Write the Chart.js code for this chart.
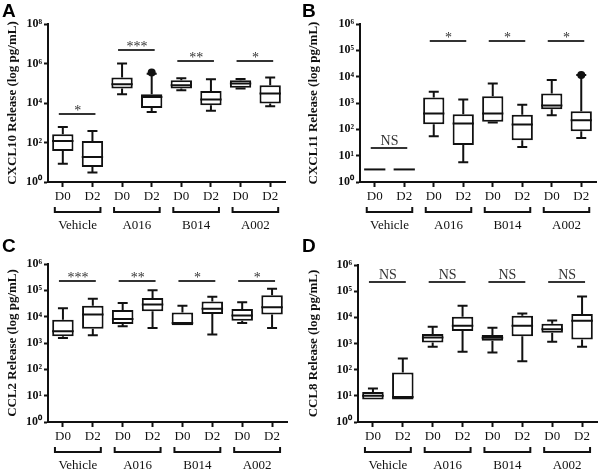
<!DOCTYPE html>
<html>
<head>
<meta charset="utf-8">
<script src="https://cdn.jsdelivr.net/npm/chart.js@4.4.0/dist/chart.umd.min.js"></script>
<style>
body { margin: 0; background: #fff; }
#wrap { position: relative; width: 600px; height: 471px; }
.cell { position: absolute; }
</style>
</head>
<body>
<div id="wrap">
  <div class="cell" style="left:0;top:0"><canvas id="cA" width="300" height="235"></canvas></div>
  <div class="cell" style="left:300px;top:0"><canvas id="cB" width="300" height="235"></canvas></div>
  <div class="cell" style="left:0;top:235px"><canvas id="cC" width="300" height="236"></canvas></div>
  <div class="cell" style="left:300px;top:235px"><canvas id="cD" width="300" height="236"></canvas></div>
</div>
<script>
var groups = ['Vehicle', 'A016', 'B014', 'A002'];
var dayLabels = ['D0', 'D2', 'D0', 'D2', 'D0', 'D2', 'D0', 'D2'];

// panel A - CXCL10
var cxcl10Min = [8.5, 3, 2.8e4, 3.5e3, 4.4e4, 4e3, 5.4e4, 6.8e3];
var cxcl10Q1  = [37, 5.8, 5.4e4, 5.6e3, 5.4e4, 7.7e3, 6.0e4, 9.3e3];
var cxcl10Med = [120, 18.5, 8.9e4, 2.0e4, 7.9e4, 1.5e4, 9.6e4, 3e4];
var cxcl10Q3  = [262, 120, 1.94e5, 2.8e4, 1.4e5, 4.1e4, 1.4e5, 7.9e4];
var cxcl10Max = [615, 383, 1e6, 3e5, 1.8e5, 1.6e5, 1.66e5, 1.94e5];
var cxcl10Out = [null, null, null, 3.5e5, null, null, null, null];
var cxcl10Sig = ['*', '***', '**', '*'];
var cxcl10SigY = [2.9e3, 4.7e6, 1.3e6, 1.3e6];

// panel B - CXCL11
var cxcl11Min = [3, 3, 55, 5.6, 181, 21.5, 345, 47];
var cxcl11Q1  = [3, 3, 157, 25.6, 192, 38.5, 585, 85];
var cxcl11Med = [3, 3, 400, 166, 400, 152, 800, 222];
var cxcl11Q3  = [3, 3, 1.6e3, 377, 1.8e3, 355, 2.3e3, 490];
var cxcl11Max = [3, 3, 2.7e3, 1.36e3, 5.5e3, 850, 7.4e3, 1.15e4];
var cxcl11Out = [null, null, null, null, null, null, null, 1.15e4];
var cxcl11Sig = ['NS', '*', '*', '*'];
var cxcl11SigY = [20, 2.2e5, 2.2e5, 2.2e5];

// panel C - CCL2
var ccl2Min = [1.55e3, 1.95e3, 4.3e3, 3.7e3, 4.7e3, 2.1e3, 5.7e3, 3.7e3];
var ccl2Q1  = [1.8e3, 3.5e3, 5.3e3, 1.6e4, 4.7e3, 1.26e4, 7.0e3, 1.2e4];
var ccl2Med = [2.8e3, 1.2e4, 8.1e3, 2.9e4, 5.7e3, 2e4, 1.1e4, 2.3e4];
var ccl2Q3  = [7.7e3, 2.6e4, 1.8e4, 5.1e4, 1.45e4, 3.8e4, 1.95e4, 6.5e4];
var ccl2Max = [2.1e4, 4.8e4, 3.3e4, 1e5, 2.6e4, 5.7e4, 3.5e4, 1.15e5];
var ccl2Sig = ['***', '**', '*', '*'];
var ccl2SigY = [2.2e5, 2.2e5, 2.2e5, 2.2e5];

// panel D - CCL8
var ccl8Min = [7.2, 7.2, 750, 480, 455, 210, 1.17e3, 750];
var ccl8Q1  = [7.2, 7.2, 1.1e3, 3e3, 1.26e3, 1.9e3, 2.6e3, 1.42e3];
var ccl8Med = [10, 9.1, 1.7e3, 4.8e3, 1.66e3, 4.8e3, 3.5e3, 7.4e3];
var ccl8Q3  = [14, 78, 2.3e3, 1.05e4, 2.1e3, 1.15e4, 5.7e3, 1.35e4];
var ccl8Max = [19, 267, 4.4e3, 2.8e4, 4e3, 1.4e4, 7.6e3, 6.2e4];
var ccl8Sig = ['NS', 'NS', 'NS', 'NS'];
var ccl8SigY = [2.3e5, 2.3e5, 2.3e5, 2.3e5];

var INK = '#111';
var SERIF = '"Liberation Serif", "Times New Roman", serif';
var SUP = {'0': '\u2070', '1': '\u00b9', '2': '\u00b2', '3': '\u00b3', '4': '\u2074',
           '5': '\u2075', '6': '\u2076', '7': '\u2077', '8': '\u2078', '9': '\u2079'};

// whiskers, medians, brackets, significance bars, panel letter
var boxExtras = {
  id: 'boxExtras',
  afterDatasetsDraw: function(chart, args, o) {
    var ctx = chart.ctx, xs = chart.scales.x, ys = chart.scales.y;
    var area = chart.chartArea;
    var bars = chart.getDatasetMeta(0).data;
    ctx.save();
    ctx.strokeStyle = INK;
    ctx.lineWidth = 2;
    ctx.lineCap = 'butt';
    for (var i = 0; i < o.med.length; i++) {
      var x = xs.getPixelForValue(i);
      var hw = bars[i].width / 2;
      var yMin = ys.getPixelForValue(o.min[i]), yMax = ys.getPixelForValue(o.max[i]);
      var yQ1 = ys.getPixelForValue(o.q1[i]), yQ3 = ys.getPixelForValue(o.q3[i]);
      var yMed = ys.getPixelForValue(o.med[i]);
      ctx.beginPath();
      if (yMax < yQ3 - 0.5) {
        ctx.moveTo(x, yQ3); ctx.lineTo(x, yMax);
        ctx.moveTo(x - 5, yMax); ctx.lineTo(x + 5, yMax);
      }
      if (yMin > yQ1 + 0.5) {
        ctx.moveTo(x, yQ1); ctx.lineTo(x, yMin);
        ctx.moveTo(x - 5, yMin); ctx.lineTo(x + 5, yMin);
      }
      ctx.moveTo(x - hw, yMed); ctx.lineTo(x + hw, yMed);
      ctx.stroke();
    }
    // significance bars
    ctx.strokeStyle = '#333';
    ctx.fillStyle = '#333';
    ctx.textAlign = 'center';
    ctx.textBaseline = 'alphabetic';
    for (var g = 0; g < groups.length; g++) {
      var x0 = xs.getPixelForValue(2 * g), x1 = xs.getPixelForValue(2 * g + 1);
      var y = Math.round(ys.getPixelForValue(o.sigY[g]));
      ctx.beginPath();
      ctx.moveTo(x0 - 4, y); ctx.lineTo(x1 + 3, y);
      ctx.stroke();
      var t = o.sig[g];
      ctx.font = '14px ' + SERIF;
      ctx.fillText(t, (x0 + x1) / 2, t === 'NS' ? y - 3 : y + 1);
    }
    // group brackets under the x axis
    ctx.strokeStyle = INK;
    ctx.fillStyle = INK;
    ctx.font = '13px ' + SERIF;
    for (g = 0; g < groups.length; g++) {
      x0 = xs.getPixelForValue(2 * g) - 8;
      x1 = xs.getPixelForValue(2 * g + 1) + 8;
      var by = area.bottom + 30;
      ctx.beginPath();
      ctx.moveTo(x0, by - 5); ctx.lineTo(x0, by); ctx.lineTo(x1, by); ctx.lineTo(x1, by - 5);
      ctx.stroke();
      ctx.textBaseline = 'middle';
      ctx.fillText(groups[g], (x0 + x1) / 2, area.bottom + 44);
    }
    // panel letter
    ctx.font = 'bold 19px "Liberation Sans", Arial, sans-serif';
    ctx.textAlign = 'left';
    ctx.textBaseline = 'alphabetic';
    ctx.fillStyle = '#000';
    ctx.fillText(o.letter, 2, 17);
    ctx.restore();
  }
};

function makePanel(id, p) {
  var boxes = p.q1.map(function(v, i) { return [v, p.q3[i]]; });
  var datasets = [{
    type: 'bar',
    data: boxes,
    backgroundColor: '#fff',
    borderColor: INK,
    borderWidth: 2,
    borderSkipped: false,
    categoryPercentage: 1,
    barPercentage: 0.72
  }];
  if (p.out) {
    datasets.push({
      type: 'line',
      data: p.out,
      showLine: false,
      pointRadius: 4,
      pointBackgroundColor: INK,
      pointBorderColor: INK,
      pointBorderWidth: 0
    });
  }
  var ticks = [];
  for (var e = 0; e <= p.maxExp; e += p.step) ticks.push(e);
  return new Chart(document.getElementById(id), {
    type: 'bar',
    data: { labels: dayLabels, datasets: datasets },
    plugins: [boxExtras],
    options: {
      responsive: false,
      animation: false,
      layout: { padding: { top: p.top, right: p.right, left: 0, bottom: 0 } },
      plugins: {
        legend: { display: false },
        tooltip: { enabled: false },
        boxExtras: { min: p.min, q1: p.q1, med: p.med, q3: p.q3, max: p.max,
                     sig: p.sig, sigY: p.sigY, letter: p.letter }
      },
      scales: {
        x: {
          type: 'category',
          offset: true,
          grid: { display: true, offset: false, drawOnChartArea: false, drawTicks: true,
                  tickLength: 5, tickWidth: 2, tickColor: INK },
          border: { display: true, color: INK, width: 2 },
          ticks: { color: INK, font: { family: SERIF, size: 13 }, padding: 2, maxRotation: 0, autoSkip: false },
          afterFit: function(s) { s.height = p.xh; }
        },
        y: {
          type: 'logarithmic',
          min: 1,
          max: Math.pow(10, p.maxExp),
          grid: { display: true, drawOnChartArea: false, drawTicks: true,
                  tickLength: 4, tickWidth: 2, tickColor: INK },
          border: { display: true, color: INK, width: 2 },
          afterBuildTicks: function(s) {
            s.ticks = ticks.map(function(k) { return { value: Math.pow(10, k) }; });
          },
          ticks: {
            color: INK,
            padding: 2,
            font: { family: SERIF, size: 12, weight: 'bold' },
            callback: function(v) {
              var k = String(Math.round(Math.log10(v)));
              return '10' + k.split('').map(function(c) { return SUP[c]; }).join('');
            }
          },
          title: {
            display: true,
            text: p.title,
            color: INK,
            font: { family: SERIF, size: 13, weight: 'bold' },
            padding: { top: p.titlePad, bottom: 0 }
          },
          afterFit: function(s) { s.width = p.yw; }
        }
      }
    }
  });
}

makePanel('cA', { letter: 'A', title: 'CXCL10 Release (log pg/mL)', maxExp: 8, step: 2,
  min: cxcl10Min, q1: cxcl10Q1, med: cxcl10Med, q3: cxcl10Q3, max: cxcl10Max, out: cxcl10Out,
  sig: cxcl10Sig, sigY: cxcl10SigY, top: 24, right: 15, xh: 53, yw: 48, titlePad: 5 });

makePanel('cB', { letter: 'B', title: 'CXCL11 Release (log pg/mL)', maxExp: 6, step: 1,
  min: cxcl11Min, q1: cxcl11Q1, med: cxcl11Med, q3: cxcl11Q3, max: cxcl11Max, out: cxcl11Out,
  sig: cxcl11Sig, sigY: cxcl11SigY, top: 24, right: 3, xh: 53, yw: 60, titlePad: 6 });

makePanel('cC', { letter: 'C', title: 'CCL2 Release (log pg/mL)', maxExp: 6, step: 1,
  min: ccl2Min, q1: ccl2Q1, med: ccl2Med, q3: ccl2Q3, max: ccl2Max, out: null,
  sig: ccl2Sig, sigY: ccl2SigY, top: 29, right: 13, xh: 49, yw: 48, titlePad: 5 });

makePanel('cD', { letter: 'D', title: 'CCL8 Release (log pg/mL)', maxExp: 6, step: 1,
  min: ccl8Min, q1: ccl8Q1, med: ccl8Med, q3: ccl8Q3, max: ccl8Max, out: null,
  sig: ccl8Sig, sigY: ccl8SigY, top: 30, right: 3, xh: 49, yw: 58, titlePad: 6 });
</script>
</body>
</html>
